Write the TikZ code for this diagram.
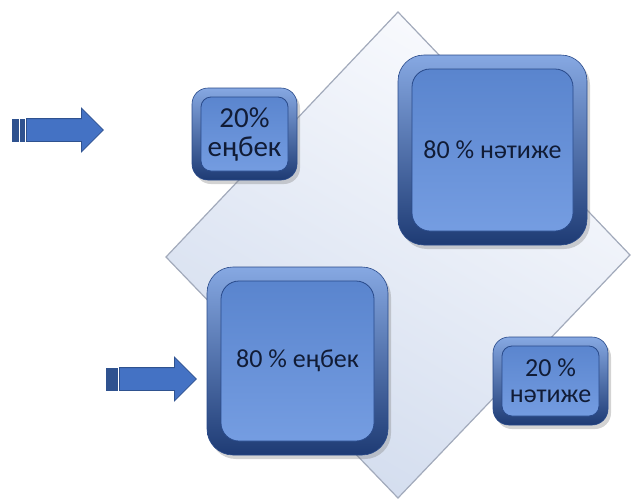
\documentclass[tikz,border=0pt]{standalone}
\usepackage{fontspec}
\setmainfont{Carlito}
\usepackage{tikz}
\usetikzlibrary{shapes.arrows,shadows}

\definecolor{tiletop}{HTML}{86A8E2}
\definecolor{tilebot}{HTML}{1E3B74}
\definecolor{tileface}{HTML}{5F8EDE}
\definecolor{tileline}{HTML}{294A8A}
\definecolor{tiletext}{HTML}{111C36}
\definecolor{arrowfill}{HTML}{4472C4}
\definecolor{arrowline}{HTML}{2F528F}
\definecolor{diamtop}{HTML}{FAFBFE}
\definecolor{diambot}{HTML}{D2DCEE}
\definecolor{diamline}{HTML}{A2AABB}

\tikzset{
  tile/.style n args={3}{rounded corners=#1, draw=tileline, line width=0.6pt,
    top color=tiletop, bottom color=tilebot,
    drop shadow={shadow xshift=3pt, shadow yshift=-4pt, opacity=0.35},
    path picture={\draw[tileline, line width=0.8pt, top color=tileface!92!black,
        bottom color=tileface!85!white, rounded corners=#3]
      ([xshift=#2, yshift=-#2]path picture bounding box.north west) rectangle
      ([xshift=-#2, yshift=#2]path picture bounding box.south east);},
    text=tiletext, align=center, inner sep=0pt, font=\fontsize{26}{26}\selectfont},
  blockarrow/.style={single arrow, single arrow head extend=10.5pt,
    single arrow head indent=0pt, minimum height=77pt, inner xsep=0pt, inner ysep=11pt,
    fill=arrowfill, draw=arrowline, line width=0.8pt, anchor=tail},
  stripe/.style={fill=arrowline, draw=arrowline, line width=0.5pt}
}

\begin{document}
\begin{tikzpicture}[x=1pt, y=-1pt]
    \useasboundingbox (0,0) rectangle (635,501);
    % background diamond
    \draw[diamline, line width=1.2pt, top color=diamtop, bottom color=diambot, shading angle=-30]
        (398,12) coordinate (T) -- (630,255) coordinate (R) -- (398,498) coordinate (B)
        -- (166,257) coordinate (L) -- cycle;

    \node[tile={16pt}{9pt}{10pt}, minimum width=105pt, minimum height=92pt,
        font=\fontsize{29}{29}\selectfont] (work20) at (244.5,134) {20\%\\еңбек};
    \node[tile={26pt}{14pt}{18pt}, minimum width=189pt, minimum height=190pt] (result80) at (492.5,150) {80 \% нәтиже};
    \node[tile={26pt}{14pt}{18pt}, minimum width=181pt, minimum height=188pt] (work80) at (297.5,361) {80 \% еңбек};
    \node[tile={16pt}{9pt}{10pt}, minimum width=115pt, minimum height=88pt] (result20) at (550.5,381) {20 \%\\нәтиже};

    \node[blockarrow] (arrow1) at (26,130) {};
    \fill[stripe] ([xshift=-14pt, yshift=11pt]arrow1.tail) rectangle ([xshift=-8pt, yshift=-11pt]arrow1.tail);
    \fill[stripe] ([xshift=-6pt, yshift=11pt]arrow1.tail) rectangle ([xshift=-1.5pt, yshift=-11pt]arrow1.tail);

    \node[blockarrow] (arrow2) at (119,379) {};
    \fill[stripe] ([xshift=-13pt, yshift=11pt]arrow2.tail) rectangle ([xshift=-7pt, yshift=-11pt]arrow2.tail);
    \fill[stripe] ([xshift=-5.5pt, yshift=11pt]arrow2.tail) rectangle ([xshift=-1.5pt, yshift=-11pt]arrow2.tail);
\end{tikzpicture}
\end{document}
